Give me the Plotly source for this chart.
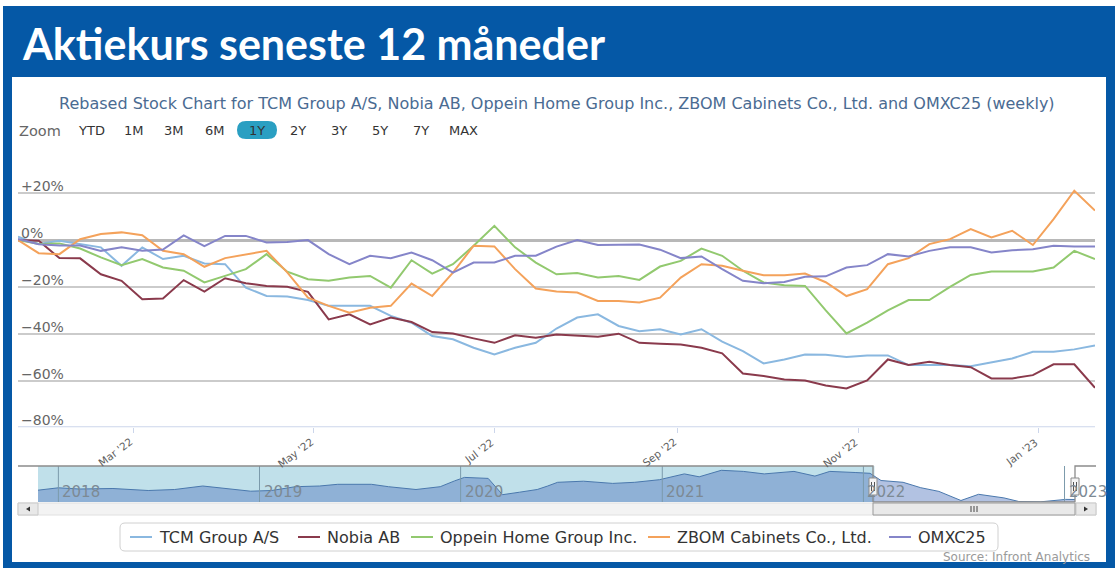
import plotly.graph_objects as go
import pandas as pd

W, H = 1118, 570

# ---------------- data ----------------
dates = pd.date_range("2022-01-21", "2023-01-20", freq="7D")

names = ["TCM Group A/S", "Nobia AB", "Oppein Home Group Inc.", "ZBOM Cabinets Co., Ltd.", "OMXC25"]

tcm = [1.5, -1.7, -0.3, -1.7, -3.1, -11, -3.1, -8.1, -6.7, -10, -10.3, -20.3, -23.9,
       -24.1, -25.6, -28.1, -28.1, -28.1, -32.4, -35.3, -41, -42.4, -46, -48.9, -46, -43.9, -37.8,
       -33.1, -31.7, -36.7, -38.9, -38.1, -40.3, -38.1, -43.4, -47.4, -52.7, -51, -48.9, -49,
       -50, -49.3, -49.3, -53.4, -53.4, -53.4, -53.9, -52.4, -50.6, -47.7, -47.7, -46.7, -45]
nobia = [0, -0.3, -7.7, -7.8, -14.6, -17.4, -25.3, -25, -17.1, -22, -16.3, -18.4, -19.6,
         -19.9, -22.1, -33.9, -31.7, -36, -33.1, -35, -39.3, -39.9, -42, -43.9, -40.7, -41.7, -40.3,
         -40.7, -41.3, -40, -43.9, -44.3, -44.6, -46, -48.4, -57, -58.1, -59.6, -60, -62.1,
         -63.4, -60, -51, -53.4, -52, -53.4, -54.3, -59.1, -59.1, -57.7, -53.1, -53.1, -63.1]
oppein = [0, -1.7, -1.4, -3.6, -7.4, -10.7, -8.1, -11.7, -13.1, -18.1, -15.3, -12.4, -6,
          -13.5, -16.7, -17.4, -16, -15.3, -20.3, -8.6, -14.3, -10.3, -2.4, 6.1, -3.1, -9.6, -14.6,
          -14.1, -16, -15.3, -17, -11.3, -8.9, -3.6, -6.7, -13.1, -18.1, -19.3, -19.6, -30,
          -39.9, -35.3, -30, -25.6, -25.6, -20, -14.9, -13.4, -13.4, -13.4, -11.7, -4.6, -8.1]
zbom = [0, -5.6, -6, 0.4, 2.6, 3.3, 2.1, -4.6, -6, -11.4, -7.7, -6, -4.6,
        -13.8, -24.6, -28.1, -31, -28.9, -28.1, -18.6, -23.9, -13.9, -2.4, -2.7, -12.4, -20.7, -22,
        -22.4, -26, -26, -26.7, -24.6, -16, -10.3, -11, -13.1, -15, -15, -14.3, -18,
        -23.9, -21, -10.3, -7.7, -1.7, 0.4, 4.7, 1.1, 4, -2.1, 9, 21.1, 12.6]
omxc25 = [0.5, -1.8, -2.3, -2.3, -4.6, -3.1, -4.6, -4, 2, -2.6, 1.8, 1.8, -1,
          -0.8, 0, -6, -10.3, -6.7, -7.7, -5.3, -8.6, -13.9, -9.6, -9.6, -6.7, -6.7, -2.8,
          0, -2.1, -2.1, -1.9, -4.1, -7.7, -7, -12.4, -17.4, -18.4, -17.9, -15.7, -15.5,
          -11.7, -10.7, -6, -7, -4.6, -3.1, -3.1, -5.3, -4.3, -3.9, -2.4, -2.7, -2.7]

y_tick_vals = [20, 0, -20, -40, -60, -80]
y_tick_text = ["+20%", "0%", "\u221220%", "\u221240%", "\u221260%", "\u221280%"]
x_tick_dates = ["2022-03-01", "2022-05-01", "2022-07-01", "2022-09-01", "2022-11-01", "2023-01-01"]
x_tick_text = ["Mar '22", "May '22", "Jul '22", "Sep '22", "Nov '22", "Jan '23"]

nav_dates = ["2017-11-25", "2018-01-01", "2018-02-08", "2018-04-10", "2018-06-13", "2018-07-31",
             "2018-09-20", "2018-10-28", "2018-12-16", "2019-01-23", "2019-03-07", "2019-04-20",
             "2019-05-23", "2019-07-23", "2019-08-23", "2019-10-12", "2019-11-25", "2019-12-21",
             "2020-01-08", "2020-02-20", "2020-03-17", "2020-04-17", "2020-05-19", "2020-06-07",
             "2020-06-25", "2020-08-11", "2020-10-03", "2020-11-12", "2020-12-27", "2021-02-10",
             "2021-03-09", "2021-04-18", "2021-05-28", "2021-07-05", "2021-08-28", "2021-10-05",
             "2021-11-01", "2021-12-17", "2022-01-13", "2022-02-02", "2022-03-14", "2022-04-15",
             "2022-05-18", "2022-06-27", "2022-07-29", "2022-09-13", "2022-10-10", "2022-11-19",
             "2022-12-14", "2023-01-03", "2023-01-20"]
nav_vals = [11.8, 14.2, 13, 13.5, 11.5, 12.5, 16, 13.5, 10.8, 11.5, 15.3, 16, 17.7, 17.7, 15.3,
            12.5, 15.3, 21.1, 24.6, 23.6, 7.3, 9.8, 12.5, 16, 19.7, 20.8, 18.6, 19.7, 22.3, 28.1,
            25.2, 31.7, 30.6, 28.1, 30.6, 25.9, 30.6, 29.5, 28.7, 21.5, 19.7, 14.3, 10.6, 1.5,
            7.7, 4.1, 0.5, 0.2, 1.5, 2.6, 2.5]
nav_years = ["2018", "2019", "2020", "2021", "2022", "2023"]

zoom_buttons = ["YTD", "1M", "3M", "6M", "1Y", "2Y", "3Y", "5Y", "7Y", "MAX"]
selected_button = "1Y"

# ---------------- style ----------------
colors = ["#8ab8e0", "#8a3a4c", "#92c96f", "#f4a25b", "#8585c9"]
BLUE = "#0558a6"
FONT = "DejaVu Sans"


def px(x):
    return x / W


def py(y):
    return 1 - y / H


fig = go.Figure()

for name, vals, c in zip(names, [tcm, nobia, oppein, zbom, omxc25], colors):
    fig.add_trace(go.Scatter(x=dates, y=vals, mode="lines", name=name,
                             line=dict(color=c, width=2), showlegend=False,
                             hoverinfo="skip", xaxis="x", yaxis="y"))

fig.add_trace(go.Scatter(x=nav_dates, y=nav_vals, mode="lines", fill="tozeroy",
                         fillcolor="rgba(85,120,190,0.45)", line=dict(color="#4a78ad", width=1),
                         showlegend=False, hoverinfo="skip", xaxis="x2", yaxis="y2"))

# main plot geometry
PL, PR = 18, 1095
PT, PB = 146.5, 427.3

shapes = []
annotations = []

# frame
shapes.append(dict(type="rect", xref="paper", yref="paper", x0=px(3), x1=px(1115), y0=py(568), y1=py(6),
                   fillcolor=BLUE, line=dict(width=0), layer="below"))
shapes.append(dict(type="rect", xref="paper", yref="paper", x0=px(12), x1=px(1106), y0=py(562), y1=py(77),
                   fillcolor="white", line=dict(width=0), layer="below"))

annotations.append(dict(text="<b>Aktiekurs seneste 12 måneder</b>", xref="paper", yref="paper",
                        x=px(20), y=py(43), xanchor="left", yanchor="middle", showarrow=False,
                        font=dict(family="Lato", size=43, color="white")))

annotations.append(dict(text="Rebased Stock Chart for TCM Group A/S, Nobia AB, Oppein Home Group Inc., "
                             "ZBOM Cabinets Co., Ltd. and OMXC25 (weekly)",
                        xref="paper", yref="paper", x=px(557), y=py(103), xanchor="center", yanchor="middle",
                        showarrow=False, font=dict(family=FONT, size=16, color="#4a6b92")))

# zoom row
annotations.append(dict(text="Zoom", xref="paper", yref="paper", x=px(17), y=py(131), xanchor="left",
                        yanchor="middle", showarrow=False, font=dict(family=FONT, size=14.5, color="#666")))
btn_x = [91, 134, 174, 215, 257, 298, 339, 380, 421, 463]
for lab, bx in zip(zoom_buttons, btn_x):
    if lab == selected_button:
        shapes.append(dict(type="path", xref="paper", yref="paper",
                           path=(f"M {px(bx-11)},{py(121)} L {px(bx+11)},{py(121)} "
                                 f"Q {px(bx+20)},{py(121)} {px(bx+20)},{py(130)} "
                                 f"Q {px(bx+20)},{py(139)} {px(bx+11)},{py(139)} "
                                 f"L {px(bx-11)},{py(139)} Q {px(bx-20)},{py(139)} {px(bx-20)},{py(130)} "
                                 f"Q {px(bx-20)},{py(121)} {px(bx-11)},{py(121)} Z"),
                           fillcolor="#2a9fc2", line=dict(width=0)))
    annotations.append(dict(text=lab, xref="paper", yref="paper", x=px(bx), y=py(130), xanchor="center",
                            yanchor="middle", showarrow=False, font=dict(family=FONT, size=13, color="#333")))

# y labels
for v, t in zip(y_tick_vals, y_tick_text):
    annotations.append(dict(text=t, xref="paper", yref="y", x=px(19), y=v, xanchor="left", yanchor="bottom",
                            showarrow=False, yshift=-3, font=dict(family=FONT, size=14, color="#666")))

# rotated x labels, text end placed at the tick
for d, t in zip(x_tick_dates, x_tick_text):
    annotations.append(dict(text=t, xref="x", yref="paper", x=d, y=py(433), xanchor="right", yanchor="top",
                            textangle=-37, showarrow=False, xshift=4,
                            font=dict(family=FONT, size=10.5, color="#606060")))

# navigator geometry
NL, NR = 38, 1075
NT, NB = 466, 502
SEL = "2022-01-21"
nav_range = ["2017-11-25", "2023-01-20"]

shapes.append(dict(type="rect", xref="x2", yref="paper", x0=nav_range[0], x1=SEL, y0=py(NB), y1=py(NT),
                   fillcolor="#c0e0ea", line=dict(width=0), layer="below"))
for yr in nav_years:
    shapes.append(dict(type="line", xref="x2", yref="paper", x0=f"{yr}-01-01", x1=f"{yr}-01-01",
                       y0=py(NB), y1=py(NT), line=dict(color="#7b9aab", width=1)))
    annotations.append(dict(text=yr, xref="x2", yref="paper", x=f"{yr}-01-01", y=py(NB), xanchor="left",
                            yanchor="bottom", xshift=2, yshift=-1, showarrow=False,
                            font=dict(family=FONT, size=15, color="#7d8a94")))

sel_px = 873
# navigator outline
shapes.append(dict(type="path", xref="paper", yref="paper",
                   path=(f"M {px(18)},{py(NT)} L {px(sel_px)},{py(NT)} L {px(sel_px)},{py(NB)} "
                         f"L {px(NR)},{py(NB)} L {px(NR)},{py(NT)} L {px(1096)},{py(NT)}"),
                   line=dict(color="#8c8c8c", width=1.3)))

# scrollbar
shapes.append(dict(type="rect", xref="paper", yref="paper", x0=px(18), x1=px(1096), y0=py(515), y1=py(503),
                   fillcolor="#f3f3f3", line=dict(color="#e0e0e0", width=1)))
for bx0, bx1 in [(18, 38), (1076, 1096)]:
    shapes.append(dict(type="rect", xref="paper", yref="paper", x0=px(bx0), x1=px(bx1), y0=py(515), y1=py(503),
                       fillcolor="#e8e8e8", line=dict(color="#c8c8c8", width=1)))
shapes.append(dict(type="path", xref="paper", yref="paper",
                   path=f"M {px(30)},{py(506.5)} L {px(30)},{py(511.5)} L {px(26)},{py(509)} Z",
                   fillcolor="#333", line=dict(width=0)))
shapes.append(dict(type="path", xref="paper", yref="paper",
                   path=f"M {px(1084)},{py(506.5)} L {px(1084)},{py(511.5)} L {px(1088)},{py(509)} Z",
                   fillcolor="#333", line=dict(width=0)))
shapes.append(dict(type="rect", xref="paper", yref="paper", x0=px(sel_px), x1=px(NR), y0=py(515), y1=py(503),
                   fillcolor="#e9e9e9", line=dict(color="#999", width=1)))
cx = (sel_px + NR) / 2
for dx in (-3, 0, 3):
    shapes.append(dict(type="line", xref="paper", yref="paper", x0=px(cx + dx), x1=px(cx + dx),
                       y0=py(506), y1=py(512), line=dict(color="#444", width=1)))

# handles
for hx in (sel_px, NR):
    shapes.append(dict(type="rect", xref="paper", yref="paper", x0=px(hx - 4), x1=px(hx + 4),
                       y0=py(495), y1=py(478), fillcolor="#f4f4f4", line=dict(color="#8c8c8c", width=1)))
    for dx in (-1.5, 1.5):
        shapes.append(dict(type="line", xref="paper", yref="paper", x0=px(hx + dx), x1=px(hx + dx),
                           y0=py(482), y1=py(491), line=dict(color="#555", width=1)))

# legend (custom)
LY = 537
shapes.append(dict(type="path", xref="paper", yref="paper",
                   path=(f"M {px(125)},{py(523)} L {px(993)},{py(523)} Q {px(998)},{py(523)} {px(998)},{py(528)} "
                         f"L {px(998)},{py(546)} Q {px(998)},{py(551)} {px(993)},{py(551)} "
                         f"L {px(125)},{py(551)} Q {px(120)},{py(551)} {px(120)},{py(546)} "
                         f"L {px(120)},{py(528)} Q {px(120)},{py(523)} {px(125)},{py(523)} Z"),
                   fillcolor="white", line=dict(color="#d0d0d0", width=1), layer="below"))
leg_line_x = [130, 298, 411, 648, 889]
for name, c, lx in zip(names, colors, leg_line_x):
    shapes.append(dict(type="line", xref="paper", yref="paper", x0=px(lx), x1=px(lx + 22), y0=py(LY), y1=py(LY),
                       line=dict(color=c, width=2)))
    annotations.append(dict(text=name, xref="paper", yref="paper", x=px(lx + 27), y=py(LY), xanchor="left",
                            yanchor="middle", showarrow=False, font=dict(family=FONT, size=16, color="#333")))

annotations.append(dict(text="Source: Infront Analytics", xref="paper", yref="paper", x=px(1092), y=py(557),
                        xanchor="right", yanchor="middle", showarrow=False,
                        font=dict(family=FONT, size=12, color="#9a9a9a")))

fig.update_layout(
    width=W, height=H, margin=dict(l=0, r=0, t=0, b=0),
    paper_bgcolor="white", plot_bgcolor="rgba(0,0,0,0)",
    showlegend=False,
    xaxis=dict(domain=[px(PL), px(PR)], type="date", range=[dates[0], dates[-1]],
               tickvals=x_tick_dates, showticklabels=False,
               ticks="outside", ticklen=5, tickcolor="#ccd6eb", showgrid=False,
               showline=False, zeroline=False, anchor="y", fixedrange=True),
    yaxis=dict(domain=[py(PB), py(PT)], range=[-80, 40], tickvals=[-80, -60, -40, -20, 20, 40],
               showticklabels=False, gridcolor="#cbcbcb", gridwidth=2, zeroline=True,
               zerolinecolor="#b8b8b8", zerolinewidth=3, showline=False, anchor="x", fixedrange=True),
    xaxis2=dict(domain=[px(NL), px(NR)], type="date", range=nav_range, showticklabels=False,
                showgrid=False, zeroline=False, anchor="y2", fixedrange=True),
    yaxis2=dict(domain=[py(NB), py(NT)], range=[0, 36], showticklabels=False, showgrid=False,
                zeroline=False, anchor="x2", fixedrange=True),
    shapes=shapes, annotations=annotations,
)

# bottom axis line in light blue-grey
fig.add_shape(type="line", xref="paper", yref="y", x0=px(PL), x1=px(PR), y0=-80, y1=-80,
              line=dict(color="#ccd6eb", width=2))

fig.write_html("out.html", config={"displayModeBar": False},
               post_script="document.body.style.margin='0';document.body.style.overflow='hidden';")
